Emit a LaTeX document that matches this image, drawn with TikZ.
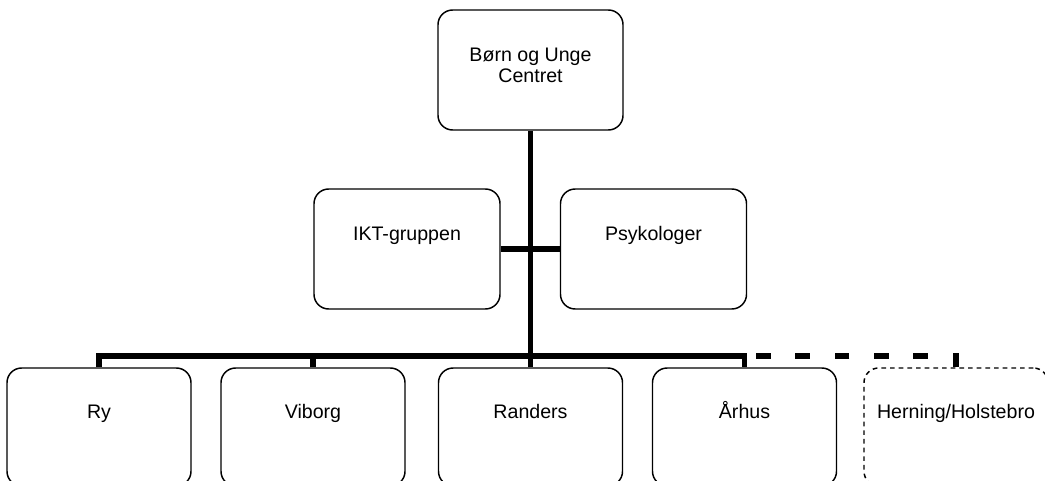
\documentclass[tikz,border=0pt]{standalone}
\usepackage{fontspec}
\setmainfont{Liberation Sans}

\begin{document}
\begin{tikzpicture}[
  unit/.style={draw=black, line width=1.1pt, rounded corners=11pt, inner xsep=0pt, inner ysep=0pt,
               align=center, font=\fontsize{14.7}{15.75}\selectfont},
  topunit/.style={unit, minimum width=138.75pt, text height=54.75pt, text depth=35.25pt},
  midunit/.style={unit, minimum width=139.5pt, text height=38.25pt, text depth=51.75pt},
  lowunit/.style={unit, minimum width=138pt, text height=37.5pt, text depth=51pt},
  planned/.style={lowunit, dash pattern=on 3.5pt off 3pt},
  link/.style={line width=4.2pt, draw=black, line join=miter},
  plannedlink/.style={link, dash pattern=on 11pt off 18.5pt},
  x=0.75pt, y=-0.75pt  % pixel scale of the 1045x481 sheet, y runs downwards
]
\useasboundingbox (0,0) rectangle (1045,481);
\clip (0,0) rectangle (1045,481);

% ---------- top ----------
\node[topunit] (bu) at (530.5,70) {Børn og Unge\\Centret};

% ---------- staff ----------
\node[midunit] (ikt) at (407,249) {IKT-gruppen};
\node[midunit] (psy) at (653.5,249) {Psykologer};

% ---------- departments ----------
\node[lowunit] (ry)  at (99,427)    {Ry};
\node[lowunit] (vib) at (313,427)   {Viborg};
\node[lowunit] (ran) at (530.5,427) {Randers};
\node[lowunit] (aar) at (744.5,427) {Århus};
\node[planned] (her) at (956,427)   {Herning/Holstebro};

\coordinate (bus) at (530.5,356);

% ---------- connectors ----------
\draw[link] (bu.south) -- (ran.north);
\draw[link] (ikt.east) -- (psy.west);
\draw[link] (ry.north) -- (ry.north |- bus) -- (aar.north |- bus) -- (aar.north);
\draw[link] (vib.north) -- (vib.north |- bus);
% planned branch, drawn from the box back to the bus so a dash sits on the drop
\draw[plannedlink] (her.north) -- (her.north |- bus) -- (aar.north |- bus);

\end{tikzpicture}
\end{document}
